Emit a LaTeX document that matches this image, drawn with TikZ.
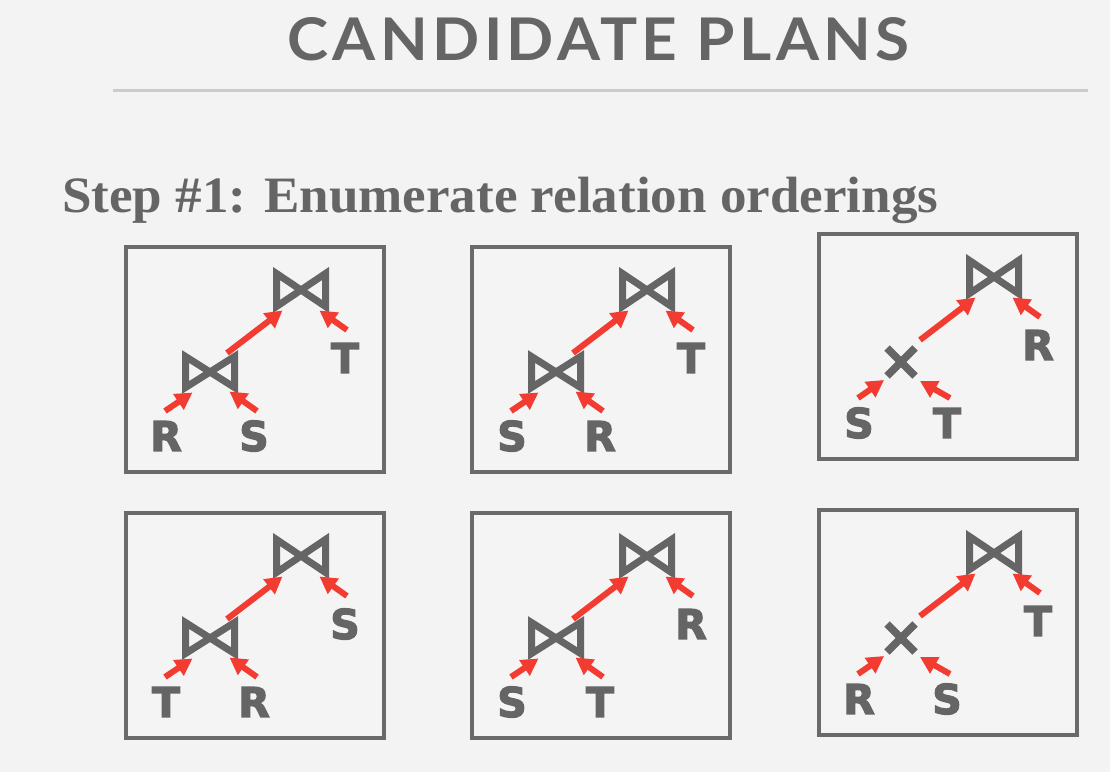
\documentclass[tikz,border=0pt]{standalone}
\usepackage{fontspec}
\usepackage{graphicx}
\usetikzlibrary{arrows.meta}
\newfontfamily\headfont[LetterSpace=7]{Lato}
\newfontfamily\stepfont{Liberation Serif}
\newfontfamily\leaffont[FakeBold=3]{DejaVu Sans}
\definecolor{paper}{HTML}{F3F3F3}
\definecolor{boxfill}{HTML}{F4F4F4}
\definecolor{ink}{HTML}{656565}
\definecolor{rim}{HTML}{6A6A6A}
\definecolor{rule}{HTML}{CCCCCC}
\definecolor{hot}{HTML}{F23B31}

\tikzset{
  frame/.style={draw=rim, line width=4pt, fill=boxfill, minimum width=258pt, minimum height=225pt, inner sep=0pt},
  opbox/.style={inner sep=0pt, outer sep=0pt},
  bowtie/.style={draw=ink, line width=7pt, line join=miter},
  crossop/.style={draw=ink, line width=7.5pt, line cap=butt},
  leaf/.style={inner sep=0pt, text=ink, font=\leaffont\bfseries\fontsize{41}{41}\selectfont},
  feed/.style={draw=hot, line width=6pt, -{Triangle[length=17pt, width=18pt]}},
}

% #1 id, #2/#3 top-left corner, #4 lower operator (j = join, x = cross product),
% #5 left leaf, #6 middle leaf, #7 right leaf
\newcommand\planbox[7]{%
\begin{scope}[shift={(#2,#3)}]
  \node[frame] (#1frame) at (131,114.5) {};
  \node[opbox, minimum width=49pt, minimum height=33pt] (#1top) at (177,45) {};
  \draw[bowtie] (#1top.north west) -- (#1top.south west) -- (#1top.north east) -- (#1top.south east) -- cycle;
  \if#4j
    \node[opbox, minimum width=49pt, minimum height=31pt] (#1low) at (86,127) {};
    \draw[bowtie] (#1low.north west) -- (#1low.south west) -- (#1low.north east) -- (#1low.south east) -- cycle;
    \coordinate (#1ltip) at ([shift={(7,5)}]#1low.south west);
    \coordinate (#1mtip) at ([shift={(-5,4)}]#1low.south east);
  \else
    \node[opbox, minimum width=28pt, minimum height=28pt] (#1low) at (84,130) {};
    \draw[crossop] (#1low.north west) -- (#1low.south east) (#1low.north east) -- (#1low.south west);
    \coordinate (#1ltip) at ([shift={(-3,4)}]#1low.south west);
    \coordinate (#1mtip) at ([shift={(5,5)}]#1low.south east);
  \fi
  \node[leaf] (#1left) at (42,191) {#5};
  \node[leaf] (#1mid) at (130,191) {#6};
  \node[leaf] (#1right) at (221,113) {#7};
  \coordinate (#1ltail) at (41,166);
  \coordinate (#1mtail) at (133,166);
  \coordinate (#1rtail) at (223,85);
  \coordinate (#1uptail) at (103,108);
  \draw[feed] (#1ltail) -- (#1ltip);
  \draw[feed] (#1mtail) -- (#1mtip);
  \draw[feed] (#1rtail) -- ([shift={(-6,4)}]#1top.south east);
  \draw[feed] (#1uptail) -- ([shift={(6,4)}]#1top.south west);
\end{scope}}

\begin{document}
\begin{tikzpicture}[x=1pt, y=-1pt]
  \useasboundingbox (0,0) rectangle (1110,772);
  \fill[paper] (0,0) rectangle (1110,772);

  % heading and rule
  \node[inner sep=0pt, text=ink, anchor=center] (title) at (598.5,39.5)
    {\resizebox{622pt}{43pt}{\headfont\bfseries\fontsize{58}{58}\selectfont CANDIDATE PLANS}};
  \coordinate (ruleL) at (113,90);
  \coordinate (ruleR) at (1088,90);
  \draw[rule, line width=3pt] (ruleL) -- (ruleR);

  \node[inner sep=0pt, text=ink, anchor=base west] (step) at (62,212)
    {\resizebox{876pt}{\height}{\stepfont\bfseries\fontsize{51}{51}\selectfont Step \#1: Enumerate relation orderings}};

  % six join orderings
  \planbox{a}{124}{245}{j}{R}{S}{T}
  \planbox{b}{470}{245}{j}{S}{R}{T}
  \planbox{c}{817}{232}{x}{S}{T}{R}
  \planbox{d}{124}{511}{j}{T}{R}{S}
  \planbox{e}{470}{511}{j}{S}{T}{R}
  \planbox{f}{817}{508}{x}{R}{S}{T}
\end{tikzpicture}
\end{document}
